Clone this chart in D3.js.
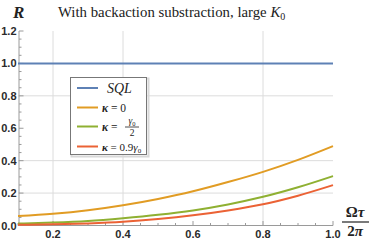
<!DOCTYPE html>
<html>
<head>
<meta charset="utf-8">
<script src="https://cdn.jsdelivr.net/npm/d3@7"></script>
<style>
  body { margin: 0; background: #fff; }
  svg { display: block; }
</style>
</head>
<body>
<div id="chart"></div>
<script>
// values
const xValues = [0.1, 0.2, 0.3, 0.4, 0.5, 0.6, 0.7, 0.8, 0.9, 1.0];
const sqlValues = [1, 1, 1, 1, 1, 1, 1, 1, 1, 1];
const kappa0Values = [0.058, 0.072, 0.094, 0.125, 0.164, 0.211, 0.268, 0.331, 0.405, 0.49];
const kappaHalfValues = [0.012, 0.018, 0.028, 0.045, 0.066, 0.093, 0.13, 0.177, 0.236, 0.305];
const kappa09Values = [0.004, 0.007, 0.013, 0.023, 0.04, 0.063, 0.093, 0.131, 0.184, 0.249];
const xTickLabels = [0.2, 0.4, 0.6, 0.8, 1.0];
const yTickLabels = [0.0, 0.2, 0.4, 0.6, 0.8, 1.0, 1.2];
const gridX = [0.2, 0.4, 0.8];
const gridY = [0.2, 0.4, 0.8];

const width = 374, height = 241;
const svg = d3.select('#chart').append('svg')
    .attr('width', width)
    .attr('height', height);

const xScale = d3.scaleLinear().domain([0.1, 1.0]).range([18, 333]);
const yScale = d3.scaleLinear().domain([0, 1.2]).range([225.5, 31]);

// grid
svg.append('g').selectAll('line.gx')
    .data(gridX).enter().append('line')
    .attr('x1', d => xScale(d)).attr('x2', d => xScale(d))
    .attr('y1', yScale(1.2)).attr('y2', yScale(0))
    .style('stroke', '#dcdcdc').style('stroke-width', 1);
svg.append('g').selectAll('line.gy')
    .data(gridY).enter().append('line')
    .attr('x1', xScale(0.1)).attr('x2', xScale(1.0))
    .attr('y1', d => yScale(d)).attr('y2', d => yScale(d))
    .style('stroke', '#dcdcdc').style('stroke-width', 1);

// axes, ticks pointing inward like Mathematica frames
const axisColor = '#9a9a9a';
const tickFont = 'Liberation Sans, Arial, sans-serif';
const xAxis = svg.append('g');
xAxis.append('line')
    .attr('x1', xScale(0.1)).attr('x2', xScale(1.0))
    .attr('y1', yScale(0)).attr('y2', yScale(0))
    .style('stroke', axisColor);
xAxis.selectAll('line.minor')
    .data(d3.range(0.1, 1.0001, 0.05)).enter().append('line')
    .attr('x1', d => xScale(d)).attr('x2', d => xScale(d))
    .attr('y1', yScale(0)).attr('y2', d => yScale(0) - (xTickLabels.some(t => Math.abs(t - d) < 1e-6) ? 4.5 : 2.5))
    .style('stroke', axisColor);
xAxis.selectAll('text')
    .data(xTickLabels).enter().append('text')
    .attr('x', d => xScale(d))
    .attr('y', 237.5)
    .attr('text-anchor', 'middle')
    .style('font-family', tickFont)
    .style('font-weight', 'bold')
    .style('font-size', '11px')
    .style('fill', '#2a2a2a')
    .text(d => d.toFixed(1));

const yAxis = svg.append('g');
yAxis.append('line')
    .attr('x1', 19).attr('x2', 19)
    .attr('y1', yScale(0)).attr('y2', yScale(1.2))
    .style('stroke', axisColor);
yAxis.selectAll('line.minor')
    .data(d3.range(0, 1.2001, 0.05)).enter().append('line')
    .attr('x1', 19)
    .attr('x2', d => 19 + (Math.abs(d * 5 - Math.round(d * 5)) < 1e-6 ? 4.5 : 2.5))
    .attr('y1', d => yScale(d)).attr('y2', d => yScale(d))
    .style('stroke', axisColor);
yAxis.selectAll('text')
    .data(yTickLabels).enter().append('text')
    .attr('x', 16.5)
    .attr('y', d => yScale(d) + 4)
    .attr('text-anchor', 'end')
    .style('font-family', tickFont)
    .style('font-weight', 'bold')
    .style('font-size', '11px')
    .style('fill', '#2a2a2a')
    .text(d => d.toFixed(1));

// curves
const series = [
    {values: sqlValues, color: '#5e81b5'},
    {values: kappa0Values, color: '#e19c24'},
    {values: kappaHalfValues, color: '#8fb032'},
    {values: kappa09Values, color: '#eb6235'}
];
const line = d3.line()
    .x((d, i) => xScale(xValues[i]))
    .y(d => yScale(d))
    .curve(d3.curveMonotoneX);
svg.append('g').selectAll('path')
    .data(series).enter().append('path')
    .attr('d', d => line(d.values))
    .style('fill', 'none')
    .style('stroke', d => d.color)
    .style('stroke-width', 2);

// title and axis labels
const serif = 'Liberation Serif, DejaVu Serif, serif';
const title = svg.append('text')
    .attr('x', 58).attr('y', 17)
    .style('font-family', serif)
    .style('font-size', '14.8px')
    .style('fill', '#222');
title.append('tspan').text('With backaction substraction, large ');
title.append('tspan').style('font-style', 'italic').text('K');
title.append('tspan').attr('dy', 3).style('font-size', '10px').text('0');

svg.append('text')
    .attr('x', 13).attr('y', 18)
    .style('font-family', serif)
    .style('font-style', 'italic')
    .style('font-weight', 'bold')
    .style('font-size', '17px')
    .style('fill', '#222')
    .text('R');

const xLabel = svg.append('g').style('font-family', serif)
    .style('font-weight', 'bold').style('font-size', '15px').style('fill', '#222');
xLabel.append('text').attr('x', 355).attr('y', 217).attr('text-anchor', 'middle')
    .html('Ω<tspan font-style="italic">τ</tspan>');
xLabel.append('line').attr('x1', 342).attr('x2', 369).attr('y1', 222).attr('y2', 222)
    .style('stroke', '#222').style('stroke-width', 1.2);
xLabel.append('text').attr('x', 355).attr('y', 236).attr('text-anchor', 'middle')
    .html('2<tspan font-style="italic">π</tspan>');

// legend
const legend = svg.append('g');
legend.append('rect')
    .attr('x', 71.5).attr('y', 78.5).attr('width', 77).attr('height', 78)
    .style('fill', 'none').style('stroke', '#d8d8d8').style('stroke-width', 2);
legend.append('rect')
    .attr('x', 70.5).attr('y', 77.5).attr('width', 76).attr('height', 77)
    .style('fill', '#fff').style('stroke', '#777').style('stroke-width', 1);
const legendRows = [88, 107.5, 126.5, 146.5];
legend.selectAll('line')
    .data(series).enter().append('line')
    .attr('x1', 77).attr('x2', 98)
    .attr('y1', (d, i) => legendRows[i]).attr('y2', (d, i) => legendRows[i])
    .style('stroke', d => d.color).style('stroke-width', 2);

const lt = legend.append('g').style('font-family', serif).style('fill', '#222');
lt.append('text').attr('x', 107).attr('y', legendRows[0] + 5)
    .style('font-style', 'italic').style('font-size', '14px').text('SQL');
lt.append('text').attr('x', 102).attr('y', legendRows[1] + 4)
    .style('font-size', '11.5px')
    .html('<tspan font-style="italic" font-weight="bold">κ</tspan> = 0');
lt.append('text').attr('x', 102).attr('y', legendRows[2] + 4)
    .style('font-size', '11.5px')
    .html('<tspan font-style="italic" font-weight="bold">κ</tspan> =');
lt.append('text').attr('x', 132).attr('y', legendRows[2] - 2.5)
    .attr('text-anchor', 'middle').style('font-size', '9.5px')
    .html('<tspan font-style="italic">γ</tspan><tspan font-size="6.5px" dy="1.5">0</tspan>');
lt.append('line').attr('x1', 125).attr('x2', 139)
    .attr('y1', legendRows[2] + 0.5).attr('y2', legendRows[2] + 0.5)
    .style('stroke', '#222').style('stroke-width', 0.8);
lt.append('text').attr('x', 132).attr('y', legendRows[2] + 9)
    .attr('text-anchor', 'middle').style('font-size', '9.5px').text('2');
lt.append('text').attr('x', 102).attr('y', legendRows[3] + 4)
    .style('font-size', '11px')
    .html('<tspan font-style="italic" font-weight="bold">κ</tspan> = 0.9<tspan font-style="italic">γ</tspan><tspan font-size="7px" dy="2">0</tspan>');
</script>
</body>
</html>
